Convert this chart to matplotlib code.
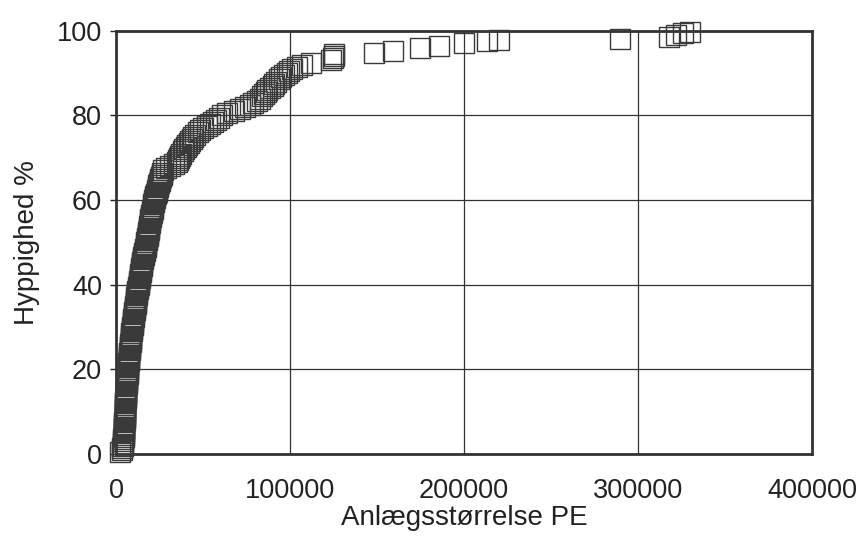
import matplotlib
matplotlib.use("Agg")
import matplotlib.pyplot as plt

plt.rcParams['font.family'] = ['Liberation Sans', 'DejaVu Sans']

# Anlægsstørrelse (PE) og kumuleret hyppighed (%)
size_low = [2300, 3200, 3600, 3800, 4000, 4100, 4200, 4300, 4400, 4600,
            4600, 4700, 4700, 4800, 4800, 4900, 4900, 5000, 5000, 5100,
            5200, 5200, 5300, 5400, 5400, 5500, 5600, 5600, 5700, 5800,
            5900, 6000, 6100, 6200, 6300, 6400, 6500, 6600, 6700, 6800,
            6900, 7000, 7100, 7200, 7300, 7400, 7600, 7700, 7800, 8000,
            8100, 8200, 8400, 8500, 8600, 8700, 8800, 8900, 9000, 9300,
            9500, 9600, 9800, 10000, 10200, 10300, 10500, 10700, 10800, 11000,
            11200, 11300, 11500, 11700, 11900, 12100, 12300, 12500, 12800, 13000,
            13200, 13400, 13600, 13800, 14000, 14200, 14400, 14600, 14800, 15000,
            15200, 15500, 15700, 16000, 16200, 16500, 16700, 17000, 17200, 17500,
            17700, 17900, 18100, 18300, 18500, 18700, 18900, 19100, 19300, 19500,
            19700, 20000, 20200, 20500, 20700, 21000, 21200, 21500, 21700, 22000,
            22300, 22600, 23000, 23300, 23600, 24000, 24400, 24700, 25100, 25500,
            25900, 26300, 26600, 27000]
pct_low = [0.5, 1.0, 1.5, 2.0, 2.5, 3.0, 3.5, 4.0, 4.5, 5.0,
           5.5, 6.0, 6.5, 7.0, 7.5, 8.0, 8.5, 9.0, 9.5, 10.0,
           10.5, 11.0, 11.5, 12.0, 12.5, 13.0, 13.5, 14.0, 14.5, 15.0,
           15.5, 16.0, 16.5, 17.0, 17.5, 18.0, 18.5, 19.0, 19.5, 20.0,
           20.5, 21.0, 21.5, 22.0, 22.5, 23.0, 23.5, 24.0, 24.5, 25.0,
           25.5, 26.0, 26.5, 27.0, 27.5, 28.0, 28.5, 29.0, 29.5, 30.0,
           30.5, 31.0, 31.5, 32.0, 32.5, 33.0, 33.5, 34.0, 34.5, 35.0,
           35.5, 36.0, 36.5, 37.0, 37.5, 38.0, 38.5, 39.0, 39.5, 40.0,
           40.5, 41.0, 41.5, 42.0, 42.5, 43.0, 43.5, 44.0, 44.5, 45.0,
           45.5, 46.0, 46.5, 47.0, 47.5, 48.0, 48.5, 49.0, 49.5, 50.0,
           50.5, 51.0, 51.5, 52.0, 52.5, 53.0, 53.5, 54.0, 54.5, 55.0,
           55.5, 56.0, 56.5, 57.0, 57.5, 58.0, 58.5, 59.0, 59.5, 60.0,
           60.5, 61.0, 61.5, 62.0, 62.5, 63.0, 63.5, 64.0, 64.5, 65.0,
           65.5, 66.0, 66.5, 67.0]

size_mid = [28500, 31000, 33500, 35000, 35500, 36000, 37000, 37500, 38500, 39000,
            40000, 41000, 42000, 42500, 43500, 44000, 45500, 47000, 48500, 50000,
            52000, 54000, 56000, 57500, 59000, 61000, 64000, 68000, 71000, 74000,
            77000, 79000, 81000, 82500, 84000, 85000, 86000, 87000, 88500, 90000,
            91000, 92000, 93500, 95000, 96500, 98000, 99500, 101000, 104000, 107000,
            112000, 123500, 124500, 125000, 125500]
pct_mid = [67.5, 68.0, 68.5, 69.0, 69.5, 70.0, 70.5, 71.0, 71.5, 72.0,
           72.5, 73.0, 73.5, 74.0, 74.5, 75.0, 75.5, 76.0, 76.5, 77.0,
           77.5, 78.0, 78.5, 79.0, 79.5, 80.0, 80.5, 81.0, 81.5, 82.0,
           82.5, 83.0, 83.5, 84.0, 84.5, 85.0, 85.5, 86.0, 86.5, 87.0,
           87.5, 88.0, 88.5, 89.0, 89.5, 90.0, 90.5, 91.0, 91.5, 92.0,
           92.5, 93.0, 93.5, 94.0, 94.5]

size_high = [148000, 159000, 174500, 185500, 200000, 213500, 220000, 289500,
             318000, 322000, 326000, 330000]
pct_high = [94.8, 95.3, 96.0, 96.4, 97.1, 97.5, 97.8, 98.1,
            98.6, 99.0, 99.4, 99.7]

x_ticks = [0, 100000, 200000, 300000, 400000]
y_ticks = [0, 20, 40, 60, 80, 100]

sizes = size_low + size_mid + size_high
pcts = pct_low + pct_mid + pct_high

fig = plt.figure(figsize=(8.57, 5.4), dpi=100)
ax = fig.add_axes([0.1354, 0.159, 0.812, 0.784])

ax.plot(sizes, pcts, linestyle='none', marker='s', markersize=14,
        markerfacecolor='none', markeredgecolor='#3a3a3a', markeredgewidth=1.0,
        clip_on=False, zorder=3)

ax.set_xlim(0, 400000)
ax.set_ylim(0, 100)
ax.set_xticks(x_ticks)
ax.set_yticks(y_ticks)
ax.set_xticklabels([str(v) for v in x_ticks])
ax.grid(True, color='#333333', linewidth=0.9)
ax.set_axisbelow(True)

for sp in ax.spines.values():
    sp.set_linewidth(2.0)
    sp.set_color('#333333')

ax.tick_params(axis='x', length=0, pad=17, labelsize=19.5, colors='#222222')
ax.tick_params(axis='y', length=4, width=1, pad=6, labelsize=19.5, colors='#222222')

ax.set_xlabel('Anlægsstørrelse PE', fontsize=20, color='#222222', labelpad=1)
ax.set_ylabel('Hyppighed %', fontsize=20, color='#222222', labelpad=12)

fig.savefig('out.png', dpi=100)
